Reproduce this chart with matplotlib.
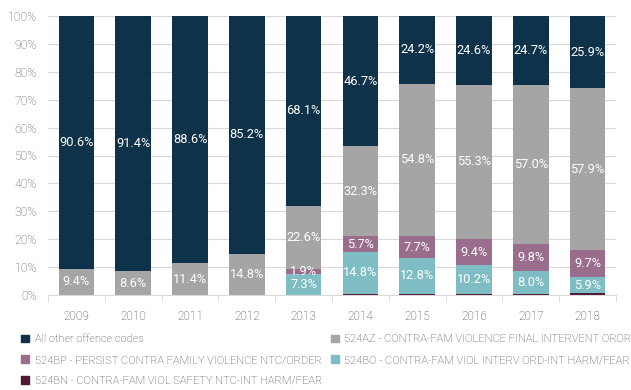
import matplotlib
matplotlib.use('Agg')
import matplotlib.pyplot as plt
from matplotlib.patches import Patch
from matplotlib.ticker import FuncFormatter, FixedLocator
import numpy as np

plt.rcParams['font.family'] = ['Roboto', 'DejaVu Sans']
plt.rcParams['font.weight'] = 'light'

years = ['2009', '2010', '2011', '2012', '2013', '2014', '2015', '2016', '2017', '2018']
other = [90.6, 91.4, 88.6, 85.2, 68.1, 46.7, 24.2, 24.6, 24.7, 25.9]
az = [9.4, 8.6, 11.4, 14.8, 22.6, 32.3, 54.8, 55.3, 57.0, 57.9]
bp = [0, 0, 0, 0, 1.9, 5.7, 7.7, 9.4, 9.8, 9.7]
bo = [0, 0, 0, 0, 7.3, 14.8, 12.8, 10.2, 8.0, 5.9]
bn = [0, 0, 0, 0, 0.1, 0.5, 0.5, 0.5, 0.5, 0.6]

names = ['524BN - CONTRA-FAM VIOL SAFETY NTC-INT HARM/FEAR',
         '524BO - CONTRA-FAM VIOL INTERV ORD-INT HARM/FEAR',
         '524BP - PERSIST CONTRA FAMILY VIOLENCE NTC/ORDER',
         '524AZ - CONTRA-FAM VIOLENCE FINAL INTERVENT ORDR',
         'All other offence codes']
series = [bn, bo, bp, az, other]
colors = ['#4b1836', '#7dbdc3', '#9a6d8d', '#a5a5a5', '#0e3249']

fig = plt.figure(figsize=(6.31, 3.90), dpi=100)
ax = fig.add_axes([48/631, 1-295/390, (616-48)/631, (295-16)/390])

x = np.arange(len(years))
bottom = np.zeros(len(years))
for vals, c in zip(series, colors):
    vals = np.array(vals)
    ax.bar(x, vals, 0.63, bottom=bottom, color=c, zorder=3)
    for i, v in enumerate(vals):
        if v >= 1:
            ax.text(x[i], bottom[i] + v/2, '%.1f%%' % v, ha='center', va='center',
                    color='white', fontsize=9.2, fontweight='normal', zorder=4)
    bottom += vals

ax.set_xlim(-0.5, len(years) - 0.5)
ax.set_ylim(0, 100)
ax.set_yticks(np.arange(0, 101, 10))
ax.yaxis.set_major_formatter(FuncFormatter(lambda v, p: '%d%%' % v))
ax.grid(axis='y', color='#d9d9d9', linewidth=0.8, zorder=0)
ax.set_xticks(x)
ax.set_xticklabels(years)
ax.xaxis.set_minor_locator(FixedLocator(np.arange(-0.5, len(years), 1)))
ax.tick_params(axis='x', which='major', length=0, pad=11, labelsize=8.5, labelcolor='#404040')
ax.tick_params(axis='x', which='minor', length=5, color='#d9d9d9')
ax.tick_params(axis='y', length=0, pad=8, labelsize=8.8, labelcolor='#595959')
for s in ['top', 'right', 'left']:
    ax.spines[s].set_visible(False)
ax.spines['bottom'].set_color('#d9d9d9')
ax.spines['bottom'].set_zorder(5)

order = [4, 2, 0, 3, 1]
handles = [Patch(color=colors[k], label=names[k]) for k in order]
fig.legend(handles=handles, ncol=2, loc='upper left', bbox_to_anchor=(0.018, 0.168),
           frameon=False, fontsize=8, handlelength=0.7, handleheight=0.7,
           handletextpad=0.5, columnspacing=0.8, labelspacing=0.95,
           labelcolor='#404040')

fig.savefig('out.png', dpi=100)
